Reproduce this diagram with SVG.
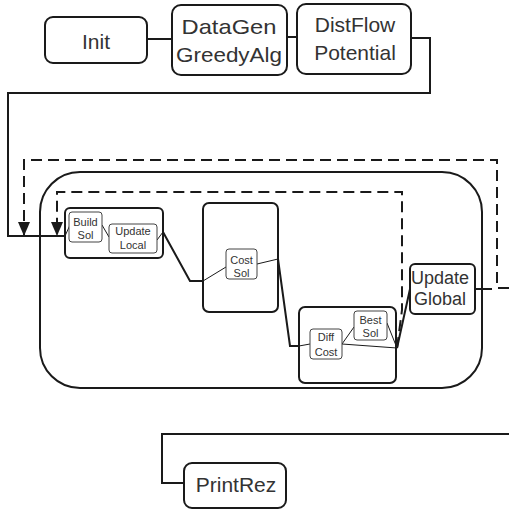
<svg xmlns="http://www.w3.org/2000/svg" width="509" height="511" viewBox="0 0 509 511">
<defs>
<style>
.box{fill:#fff;stroke:#1a1a1a;stroke-width:2}
.grp{fill:none;stroke:#1a1a1a;stroke-width:2}
.sbox{fill:#fff;stroke:#444;stroke-width:1}
.big{fill:none;stroke:#1a1a1a;stroke-width:2}
.t{font-family:"Liberation Sans",Arial,sans-serif;font-size:21px;fill:#333;text-anchor:middle}
.ts{font-family:"Liberation Sans",Arial,sans-serif;font-size:11px;fill:#333;text-anchor:middle}
.tm{font-family:"Liberation Sans",Arial,sans-serif;font-size:18px;fill:#333;text-anchor:middle}
.c{fill:none;stroke:#1a1a1a;stroke-width:2}
.thin{fill:none;stroke:#1a1a1a;stroke-width:1}
.d{fill:none;stroke:#1a1a1a;stroke-width:2;stroke-dasharray:11 6}
</style>
<marker id="ah" viewBox="0 0 14 12" refX="14" refY="6" markerWidth="14" markerHeight="12" markerUnits="userSpaceOnUse" orient="auto">
<path d="M0,0 L14,6 L0,12 Z" fill="#1a1a1a"/>
</marker>
</defs>

<g id="loop-container">
<rect class="big" x="40" y="172" width="442" height="216" rx="40" ry="40"/>
</g>

<g id="connectors">
<path class="c" d="M147,39 H172"/>
<path class="c" d="M287,37 H297"/>
<path class="c" d="M411,38 H430 V93 H8 V236 H65"/>
<path class="thin" d="M65,236 L70,225"/>
<path class="thin" d="M102,225 L109,237"/>
<path class="thin" d="M157,240 L163,232"/>
<path class="c" d="M163,232 L190,281 H203"/>
<path class="thin" d="M203,281 L226,267"/>
<path class="thin" d="M257,264 L278,259"/>
<path class="c" d="M278,259 L290,346 H299"/>
<path class="thin" d="M299,346 L310,344"/>
<path class="thin" d="M342,344 L354,327"/>
<path class="thin" d="M342,344 L397,348"/>
<path class="thin" d="M387,323 L397,348"/>
<path class="c" d="M397,348 L410,289"/>
<path class="c" d="M475,289 H492"/>
<path class="d" d="M397,348 L402,310 V192 H57 V236" marker-end="url(#ah)"/>
<path class="d" d="M509,288 H497 V160 H24 V236" marker-end="url(#ah)"/>
<path class="c" d="M509,434 H162 V483 H184"/>
</g>

<g id="init">
<rect class="box" x="45" y="17" width="102" height="46" rx="8"/>
<text class="t" x="96" y="49">Init</text>
</g>

<g id="datagen">
<rect class="box" x="172" y="5" width="115" height="70" rx="9"/>
<text class="t" x="229" y="34" textLength="95" lengthAdjust="spacingAndGlyphs">DataGen</text>
<text class="t" x="229" y="62" textLength="106" lengthAdjust="spacingAndGlyphs">GreedyAlg</text>
</g>

<g id="distflow">
<rect class="box" x="297" y="4" width="114" height="70" rx="9"/>
<text class="t" x="355" y="32">DistFlow</text>
<text class="t" x="355" y="60">Potential</text>
</g>

<g id="build-group">
<rect class="grp" x="65" y="208" width="98" height="50" rx="5"/>
</g>
<g id="build-sol">
<rect class="sbox" x="69" y="212" width="33" height="30" rx="3"/>
<text class="ts" x="85.5" y="226">Build</text>
<text class="ts" x="85.5" y="239">Sol</text>
</g>
<g id="update-local">
<rect class="sbox" x="109" y="224" width="48" height="29" rx="3"/>
<text class="ts" x="133" y="235">Update</text>
<text class="ts" x="133" y="249">Local</text>
</g>

<g id="cost-group">
<rect class="grp" x="203" y="203" width="75" height="109" rx="6"/>
</g>
<g id="cost-sol">
<rect class="sbox" x="226" y="249" width="31" height="30" rx="3"/>
<text class="ts" x="241.5" y="264">Cost</text>
<text class="ts" x="241.5" y="277">Sol</text>
</g>

<g id="diff-group">
<rect class="grp" x="299" y="307" width="97" height="76" rx="6"/>
</g>
<g id="diff-cost">
<rect class="sbox" x="310" y="329" width="32" height="30" rx="3"/>
<text class="ts" x="326" y="341">Diff</text>
<text class="ts" x="326" y="356">Cost</text>
</g>
<g id="best-sol">
<rect class="sbox" x="354" y="311" width="33" height="29" rx="3"/>
<text class="ts" x="370.5" y="324">Best</text>
<text class="ts" x="370.5" y="337">Sol</text>
</g>

<g id="update-global">
<rect class="box" x="410" y="264" width="65" height="50" rx="5"/>
<text class="tm" x="440" y="284">Update</text>
<text class="tm" x="440" y="305">Global</text>
</g>

<g id="printrez">
<rect class="box" x="184" y="463" width="102" height="45" rx="8"/>
<text class="t" x="236" y="492">PrintRez</text>
</g>
</svg>
